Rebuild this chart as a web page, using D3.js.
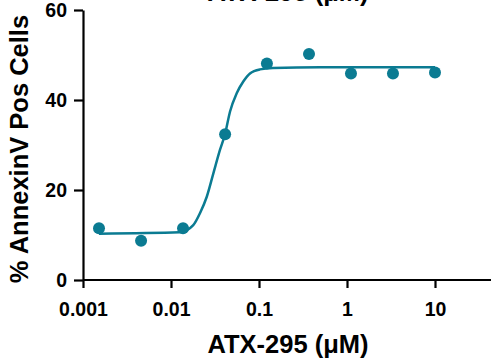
<!DOCTYPE html>
<html>
<head>
<meta charset="utf-8">
<script src="https://cdn.jsdelivr.net/npm/d3@7"></script>
<style>
  body { margin: 0; background: #fff; }
  svg text { font-family: "Liberation Sans", Arial, sans-serif; font-weight: bold; fill: #000; }
</style>
</head>
<body>
<div id="plot"></div>
<script>
// Data
const conc = [0.00152, 0.00457, 0.0137, 0.0412, 0.123, 0.370, 1.11, 3.33, 10];
const pct = [11.5, 8.7, 11.5, 32.4, 48.1, 50.2, 45.9, 45.9, 46.1];

// fitted curve, sampled by eye
const fitConc = [0.00152, 0.0126, 0.0179, 0.0214, 0.0255, 0.0303, 0.0360, 0.0411, 0.0468, 0.0558, 0.0663, 0.0790, 0.1026, 0.144, 0.5, 10];
const fitPct = [10.3, 10.6, 12.2, 14.9, 18.5, 23.7, 28.9, 32.4, 37.4, 41.5, 44.1, 45.9, 46.8, 47.1, 47.3, 47.3];

const xTicks = [0.001, 0.01, 0.1, 1, 10];
const xTickLabels = ["0.001", "0.01", "0.1", "1", "10"];
const yTicks = [0, 20, 40, 60];
const xTitle = "ATX-295 (μM)";
const yTitle = "% AnnexinV Pos Cells";

const width = 491, height = 358;
const color = "#0b7b92";

const x = d3.scaleLog().domain([0.001, 10]).range([83, 435]);
const y = d3.scaleLinear().domain([0, 60]).range([280, 10]);

const svg = d3.select("#plot")
    .append("svg")
    .attr("width", width)
    .attr("height", height);

// x axis
const gx = svg.append("g")
    .attr("transform", `translate(0,${y(0)})`)
    .call(d3.axisBottom(x).tickValues(xTicks).tickFormat((d, i) => xTickLabels[i]).tickSize(8).tickSizeOuter(0).tickPadding(14));
gx.select(".domain").attr("d", `M${x(0.001)},0H${width}`);

// y axis
const gy = svg.append("g")
    .attr("transform", `translate(${x(0.001)},0)`)
    .call(d3.axisLeft(y).tickValues(yTicks).tickSize(9).tickSizeOuter(0).tickPadding(7));

svg.selectAll(".domain").attr("stroke", "#000").attr("stroke-width", 2.2);
svg.selectAll(".tick line").attr("stroke", "#000").attr("stroke-width", 2.2);
svg.selectAll(".tick text").style("font-size", "19.5px").style("font-family", "Liberation Sans, Arial, sans-serif").style("font-weight", "bold");

// fitted curve
const fit = fitConc.map((c, i) => [c, fitPct[i]]);
svg.append("path")
    .datum(fit)
    .attr("d", d3.line().x(d => x(d[0])).y(d => y(d[1])).curve(d3.curveMonotoneX))
    .attr("fill", "none")
    .attr("stroke", color)
    .attr("stroke-width", 2.5);

// points
svg.selectAll("circle.pt")
    .data(conc.map((c, i) => [c, pct[i]]))
    .enter()
    .append("circle")
    .attr("class", "pt")
    .attr("cx", d => x(d[0]))
    .attr("cy", d => y(d[1]))
    .attr("r", 6)
    .attr("fill", color);

// titles
svg.append("text")
    .attr("x", 288)
    .attr("y", 353)
    .attr("text-anchor", "middle")
    .style("font-size", "25.5px")
    .text(xTitle);

// cropped title at the top
svg.append("text")
    .attr("x", 288)
    .attr("y", 1)
    .attr("text-anchor", "middle")
    .style("font-size", "25.5px")
    .text(xTitle);

svg.append("text")
    .attr("transform", "translate(28,149) rotate(-90)")
    .attr("text-anchor", "middle")
    .style("font-size", "25.5px")
    .text(yTitle);
</script>
</body>
</html>
